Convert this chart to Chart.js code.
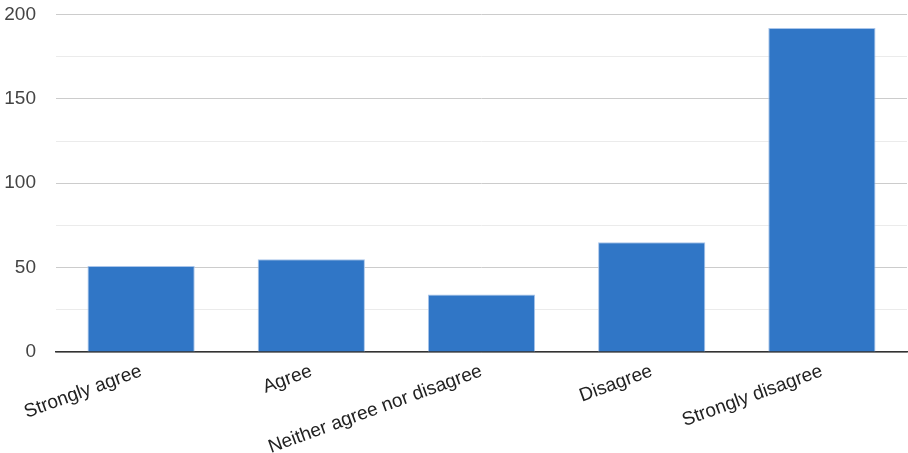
<!DOCTYPE html>
<html>
<head>
<meta charset="utf-8">
<script src="https://cdn.jsdelivr.net/npm/chart.js@4"></script>
<style>
  html, body { margin: 0; padding: 0; background: #fff; overflow: hidden; }
  #wrap { width: 908px; height: 470px; margin-top: -17px; }
</style>
</head>
<body>
<div id="wrap"><canvas id="chart"></canvas></div>
<script>
// survey responses
const categories = ['Strongly agree', 'Agree', 'Neither agree nor disagree', 'Disagree', 'Strongly disagree'];
const counts = [51, 55, 34, 65, 192];
const yTicks = [0, 50, 100, 150, 200];

const ctx = document.getElementById('chart').getContext('2d');
new Chart(ctx, {
  type: 'bar',
  data: {
    labels: categories,
    datasets: [{
      data: counts,
      backgroundColor: '#3076c6',
      borderColor: '#a9c5ea',
      borderWidth: 1,
      barPercentage: 0.63,
      categoryPercentage: 1
    }]
  },
  options: {
    responsive: true, maintainAspectRatio: false, animation: false,
    layout: { padding: { top: 0, right: 1, left: 0, bottom: 0 } },
    plugins: { legend: { display: false }, tooltip: { enabled: false } },
    scales: {
      x: {
        grid: { display: false },
        border: { color: '#333', width: 1.5 },
        ticks: {
          color: '#222', font: { family: 'Liberation Sans, Arial', size: 19 },
          minRotation: 20, maxRotation: 20, padding: 0, autoSkip: false
        },
        afterFit: s => { s.height = 101; }
      },
      y: {
        min: 0, max: 200,
        border: { display: false },
        grid: {
          drawTicks: false,
          color: c => (c.tick.value % 50 === 0 ? '#cccccc' : '#ebebeb')
        },
        ticks: {
          stepSize: 25, padding: 20, color: '#444',
          font: { family: 'Liberation Sans, Arial', size: 19 },
          callback: v => (yTicks.includes(v) ? v : '')
        },
        afterFit: s => { s.width = 56; }
      }
    }
  }
});
</script>
</body>
</html>
